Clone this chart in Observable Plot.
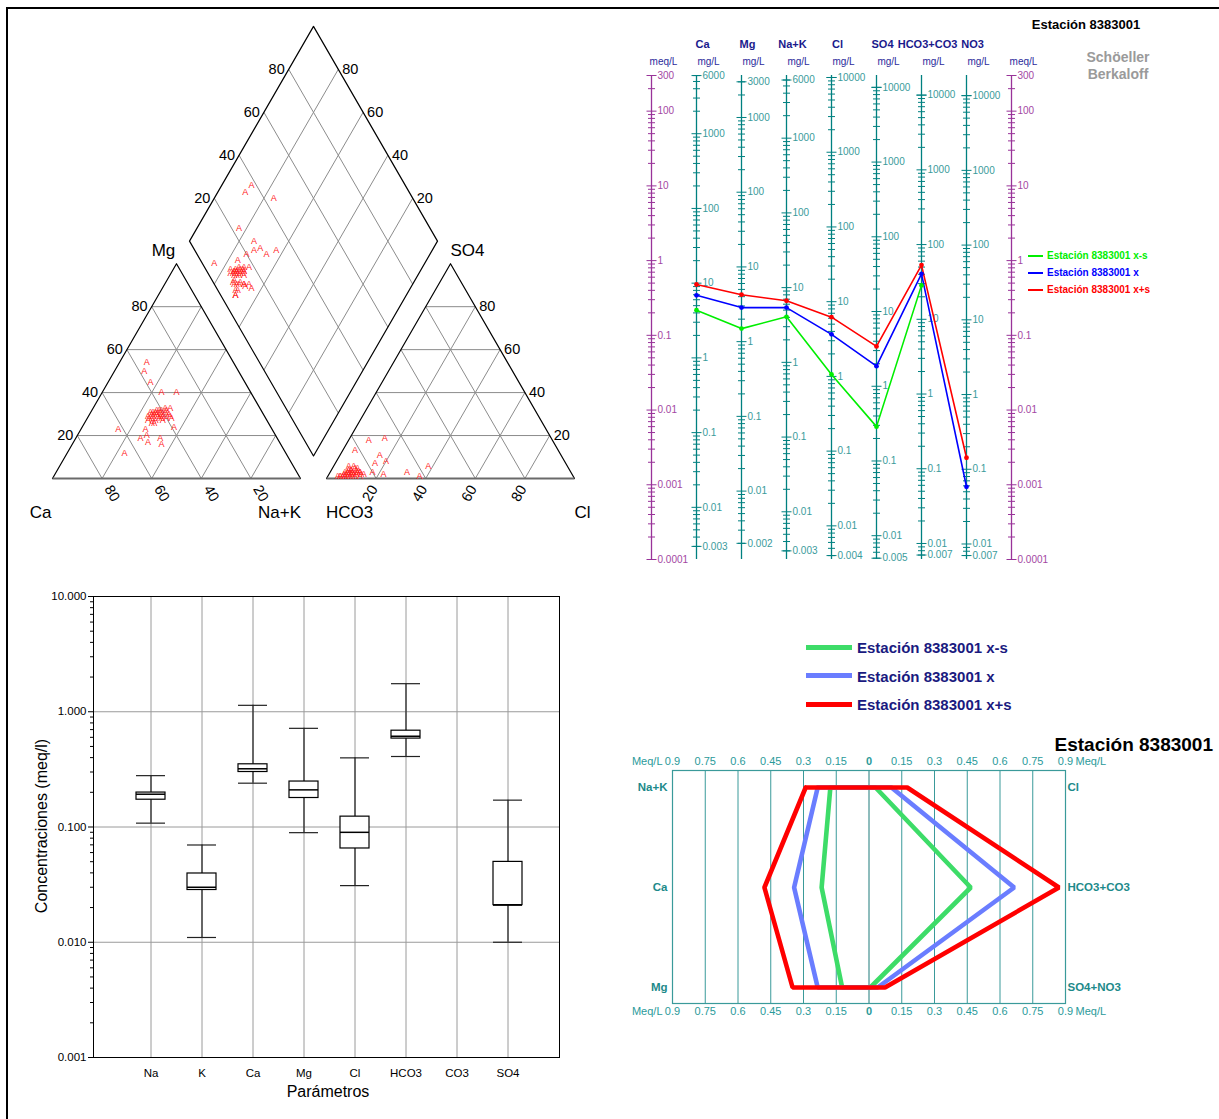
<!DOCTYPE html>
<html><head><meta charset="utf-8">
<script src="https://cdn.jsdelivr.net/npm/d3@7"></script>
<script src="https://cdn.jsdelivr.net/npm/@observablehq/plot@0.6"></script>
<style>
body{margin:0;background:#fff;}
#page{position:relative;width:1219px;height:1119px;overflow:hidden;background:#fff;font-family:'Liberation Sans',Arial,Helvetica,sans-serif;}
.lbl{position:absolute;white-space:nowrap;line-height:1;}
</style></head><body><div id="page"></div>
<script>
// ================= DATA =================
// Piper samples (percent of meq): cations Mg, Na+K (Ca = rest); anions SO4, Cl (HCO3 = rest)
const mgPct  = [54,50,45,40,40,28,24,23,23,20,19,19,17,16,12, 30,32,29,31,28,33,27,30,29,31,32,28,30,26,29,31,27,30,33,28,29,32,30,27,31,29,28,30,32,26,31,29,30,28,27];
const nakPct = [11,12,17,24,30,34,37,15,26,28,26,34,30,36,23, 27,28,26,30,25,29,27,31,28,24,26,29,32,27,30,25,28,26,31,30,24,27,29,31,28,33,26,25,30,28,26,29,27,32,25];
const so4Pct = [3,1,7,6,11,8,19,1,18,2,3,4,13,3,2, 2,1,3,1,4,2,5,1,3,2,1,6,2,3,1,4,2,3,1,2,5,1,3,2,4,1,2,3,1,2,6,1,2,3,4];
const clPct  = [31,37,16,38,16,20,14,4,8,22,17,10,5,11,8, 9,7,11,6,8,13,9,5,12,7,9,8,10,6,13,7,11,9,5,8,10,7,12,6,8,11,9,7,10,14,6,8,11,9,7];
const piperTicks = [20,40,60,80];

// Schoeller-Berkaloff
const sbIons = ["Ca","Mg","Na+K","Cl","SO4","HCO3+CO3","NO3"];
const sbEqWeight = [20.04,12.15,22.99,35.45,48.03,61.02,62.0];
const sbMgTop = [6000,3000,6000,10000,10000,10000,10000];
const sbMgBottom = [0.003,0.002,0.003,0.004,0.005,0.007,0.007];
const meqRange = [0.0001,300];
const meqLabels = [300,100,10,1,0.1,0.01,0.001,0.0001];
const seriesNames = ["Estación 8383001 x-s","Estación 8383001 x","Estación 8383001 x+s"];
// meq/L per ion, order of sbIons
const meqXmS = [0.217,0.123,0.177,0.030,0.006,0.466,null];
const meqX   = [0.343,0.235,0.235,0.103,0.0386,0.665,0.00094];
const meqXpS = [0.479,0.350,0.290,0.175,0.071,0.870,0.0023];

// Box plot (meq/l)
const boxCats = ["Na","K","Ca","Mg","Cl","HCO3","CO3","SO4"];
const boxMin = [0.108,0.011,0.24,0.0893,0.031,0.409,null,0.010];
const boxQ1  = [0.1725,0.0284,0.30,0.1785,0.0651,0.585,null,0.021];
const boxMed = [0.1925,0.030,0.32,0.21,0.0899,0.613,null,0.021];
const boxQ3  = [0.199,0.0395,0.35,0.248,0.123,0.685,null,0.0498];
const boxMax = [0.279,0.0698,1.137,0.718,0.398,1.752,null,0.171];
const boxDecades = [0.001,0.01,0.1,1,10];

// Stiff
const stiffCations = ["Na+K","Ca","Mg"];
const stiffAnions = ["Cl","HCO3+CO3","SO4+NO3"];
const stiffTicks = [-0.9,-0.75,-0.6,-0.45,-0.3,-0.15,0,0.15,0.3,0.45,0.6,0.75,0.9];

// ================= HELPERS =================
const FONT = "'Liberation Sans', Arial, Helvetica, sans-serif";
const page = document.getElementById("page");
function addSvg(svg, left, top){
  svg.style.position="absolute"; svg.style.left=left+"px"; svg.style.top=top+"px";
  svg.style.overflow="visible"; svg.style.maxWidth="none"; page.appendChild(svg);
}
function label(text, x, y, style, anchor){
  const d=document.createElement("div"); d.className="lbl"; d.textContent=text;
  Object.assign(d.style, style||{});
  d.style.left=x+"px"; d.style.top=y+"px";
  const tx = anchor==="start"?"0":anchor==="end"?"-100%":"-50%";
  d.style.transform=`translate(${tx},-50%)`+(style&&style.rot?` rotate(${style.rot})`:"");
  page.appendChild(d); return d;
}
function hline(x,y,w,h,color){
  const d=document.createElement("div");
  Object.assign(d.style,{position:"absolute",left:x+"px",top:y+"px",width:w+"px",height:h+"px",background:color});
  page.appendChild(d);
}
// page frame
hline(6,7,1213,2,"#000");
hline(6,7,2,1112,"#000");

// ================= PIPER =================
const S3 = Math.sqrt(3)/2, GAP = 0.105, K = 248;
const catXY = (nak, mg) => [(nak + mg/2)/100, mg*S3/100];
const anXY = (so4, cl) => [1 + GAP + (cl + so4/2)/100, so4*S3/100];
const B0 = [1 + GAP/2, GAP*S3];
const diaXY = (a, c) => [B0[0] + (c - a)/2, B0[1] + S3*(a + c)];
const seg = (p,q) => ({x1:p[0],y1:p[1],x2:q[0],y2:q[1]});

const samples = mgPct.map((mg,i)=>({mg, nak:nakPct[i], so4:so4Pct[i], cl:clPct[i]}));
const catPts = samples.map(s=>{const p=catXY(s.nak,s.mg); return {x:p[0],y:p[1]};});
const anPts = samples.map(s=>{const p=anXY(s.so4,s.cl); return {x:p[0],y:p[1]};});
const diaPts = samples.map(s=>{const p=diaXY((100-s.nak)/100,(s.so4+s.cl)/100); return {x:p[0],y:p[1]};});

const grid = [];
for (const v of piperTicks){
  grid.push(seg(catXY(0,v), catXY(100-v,v)));
  grid.push(seg(catXY(v,0), catXY(v,100-v)));
  grid.push(seg(catXY(100-v,0), catXY(0,100-v)));
  grid.push(seg(anXY(v,0), anXY(v,100-v)));
  grid.push(seg(anXY(0,v), anXY(100-v,v)));
  grid.push(seg(anXY(0,100-v), anXY(100-v,0)));
  grid.push(seg(diaXY(v/100,0), diaXY(v/100,1)));
  grid.push(seg(diaXY(0,v/100), diaXY(1,v/100)));
}
const outline = [];
[[catXY(0,0),catXY(100,0),catXY(0,100),catXY(0,0)],
 [anXY(0,0),anXY(0,100),anXY(100,0),anXY(0,0)],
 [diaXY(0,0),diaXY(1,0),diaXY(1,1),diaXY(0,1),diaXY(0,0)]].forEach((poly,k)=>poly.forEach(p=>outline.push({x:p[0],y:p[1],k})));
const bases = [seg(catXY(0,0),catXY(100,0)), seg(anXY(0,0),anXY(0,100))];

const lab = (arr, f) => arr.map(v=>{const p=f(v); return {x:p[0],y:p[1],t:String(v)};});
const tk = {fontSize:14.5, fill:"#000"};
const piper = Plot.plot({
  width:615, height:540, margin:0,
  x:{type:"linear", domain:[0,2+GAP], range:[52,574], axis:null},
  y:{type:"linear", domain:[0,478/K], range:[478,0], axis:null},
  style:{fontFamily:FONT, background:"transparent"},
  marks:[
    Plot.link(grid,{x1:"x1",y1:"y1",x2:"x2",y2:"y2",stroke:"#8c8c8c",strokeWidth:1}),
    Plot.line(outline,{x:"x",y:"y",z:"k",stroke:"#000",strokeWidth:1.2}),
    Plot.link(bases,{x1:"x1",y1:"y1",x2:"x2",y2:"y2",stroke:"#6a6a6a",strokeWidth:2.2}),
    Plot.text(lab(piperTicks, v=>catXY(0,v)),{x:"x",y:"y",text:"t",textAnchor:"end",dx:-4,...tk}),
    Plot.text(lab([80,60,40,20], v=>catXY(100-v,0)),{x:"x",y:"y",text:"t",rotate:60,dx:10,dy:15,...tk}),
    Plot.text(lab(piperTicks, v=>anXY(v,100-v)),{x:"x",y:"y",text:"t",textAnchor:"start",dx:4,...tk}),
    Plot.text(lab(piperTicks, v=>anXY(0,v)),{x:"x",y:"y",text:"t",rotate:-60,dx:-6,dy:15,...tk}),
    Plot.text(lab(piperTicks, v=>diaXY(1,v/100)),{x:"x",y:"y",text:"t",textAnchor:"end",dx:-4,...tk}),
    Plot.text(lab(piperTicks, v=>diaXY(v/100,1)),{x:"x",y:"y",text:"t",textAnchor:"start",dx:4,...tk}),
    Plot.text([{p:catXY(0,0),t:"Ca",dx:-12,dy:34},{p:catXY(100,0),t:"Na+K",dx:-21,dy:34},{p:catXY(0,100),t:"Mg",dx:-13,dy:-13},
               {p:anXY(0,0),t:"HCO3",dx:23,dy:34},{p:anXY(0,100),t:"Cl",dx:8,dy:34},{p:anXY(100,0),t:"SO4",dx:17,dy:-13}].map(d=>({x:d.p[0]+d.dx/K,y:d.p[1]-d.dy/K,t:d.t})),
      {x:"x",y:"y",text:"t",fontSize:17,fill:"#000"}),
    Plot.text(catPts,{x:"x",y:"y",text:()=>"A",fill:"#ff2020",fontSize:9}),
    Plot.text(anPts,{x:"x",y:"y",text:()=>"A",fill:"#ff2020",fontSize:9}),
    Plot.text(diaPts,{x:"x",y:"y",text:()=>"A",fill:"#ff2020",fontSize:9})
  ]
});
addSvg(piper,0,0);

// ================= SCHOELLER =================
function logTicks(lo, hi){
  const out=[];
  for(let e=-5;e<=5;e++){const p=+("1e"+e); for(let k=1;k<10;k++){const v=k*p; if(v>=lo*0.999&&v<=hi*1.001) out.push({v,major:k===1});}}
  return out;
}
const fmt = d3.format("~g");
const teal="#008080", tealLbl="#3a9b9b", purple="#993399", purpleLbl="#a347a3";
const ionTicks=[], ionLabels=[], meqTicks=[], meqLbl=[];
sbIons.forEach((ion,i)=>{
  const w=sbEqWeight[i], lo=sbMgBottom[i], hi=sbMgTop[i];
  const t=logTicks(lo,hi); t.push({v:lo,major:true},{v:hi,major:true});
  t.forEach(d=>ionTicks.push({pos:i+1, meq:d.v/w, h:d.major?5:3.5}));
  const labs=[...new Set(t.filter(d=>d.major).map(d=>d.v))];
  labs.forEach(v=>ionLabels.push({pos:i+1, meq:v/w, t:fmt(v)}));
});
[0,8].forEach(pos=>{
  logTicks(meqRange[0],meqRange[1]).concat([{v:300,major:true}]).forEach(d=>meqTicks.push({pos, meq:d.v, h:d.major?5:3.5}));
  meqLabels.forEach(v=>meqLbl.push({pos, meq:v, t:fmt(v)}));
});
const sbColors=["#00ee00","#0000ff","#ff0000"];
const sbRows=[meqXmS,meqX,meqXpS].flatMap((vals,s)=>vals.map((v,i)=>({s:seriesNames[s], color:sbColors[s], pos:i+1, meq:v})));
const PX=45;
const sb = Plot.plot({
  width:599, height:575, margin:0,
  x:{type:"linear", domain:[0,8], range:[31,391], axis:null},
  y:{type:"log", domain:meqRange, range:[559,75], axis:null},
  style:{fontFamily:FONT, background:"transparent"},
  marks:[
    Plot.ruleX(sbIons,{x:(d,i)=>i+1, y1:meqRange[0], y2:meqRange[1], stroke:teal, strokeWidth:1.3}),
    Plot.ruleX([0,8],{x:d=>d, y1:meqRange[0], y2:meqRange[1], stroke:purple, strokeWidth:1.3}),
    Plot.link(ionTicks,{x1:d=>d.pos-d.h/PX, x2:d=>d.pos+d.h/PX, y1:"meq", y2:"meq", stroke:teal, strokeWidth:1}),
    Plot.link(meqTicks,{x1:d=>d.pos-d.h/PX, x2:d=>d.pos+d.h/PX, y1:"meq", y2:"meq", stroke:purple, strokeWidth:1}),
    Plot.text(ionLabels,{x:"pos", y:"meq", text:"t", dx:6, textAnchor:"start", fill:tealLbl, fontSize:10}),
    Plot.text(meqLbl,{x:"pos", y:"meq", text:"t", dx:6, textAnchor:"start", fill:purpleLbl, fontSize:10}),
    Plot.text(sbIons,{x:(d,i)=>i+1, frameAnchor:"top", lineAnchor:"middle", dy:44, dx:6, text:d=>d, fill:"#1a1a8c", fontWeight:"bold", fontSize:11}),
    Plot.text(["meq/L"].concat(sbIons.map(()=>"mg/L"),["meq/L"]),{x:(d,i)=>i, frameAnchor:"top", lineAnchor:"middle", dy:61, dx:12, text:d=>d, fill:"#2b2b9b", fontSize:10}),
    Plot.line(sbRows,{x:"pos", y:"meq", z:"s", stroke:"color", strokeWidth:1.6}),
    Plot.dot(sbRows.filter(d=>d.meq!=null),{x:"pos", y:"meq", fill:"color", r:2.4})
  ]
});
addSvg(sb,620,0);
label("Estación 8383001",1086,24,{fontSize:"13px",fontWeight:"bold",color:"#000"});
label("Schöeller",1118,57,{fontSize:"14px",fontWeight:"bold",color:"#9a9a9a"});
label("Berkaloff",1118,74,{fontSize:"14px",fontWeight:"bold",color:"#9a9a9a"});
seriesNames.forEach((n,i)=>{
  const y=256+17*i;
  hline(1028,y-1,15,2,sbColors[i]);
  label(n,1047,y,{fontSize:"10px",fontWeight:"bold",color:sbColors[i]},"start");
});

// ================= BOX PLOT =================
const boxRows = boxCats.map((c,i)=>({cat:c, lo:boxMin[i], q1:boxQ1[i], med:boxMed[i], q3:boxQ3[i], hi:boxMax[i]})).filter(d=>d.lo!=null);
const minors=[]; for(const d of boxDecades.slice(0,-1)) for(let k=2;k<10;k++) minors.push(k*d);
const box = Plot.plot({
  width:600, height:549, marginLeft:93, marginRight:41, marginTop:26, marginBottom:62,
  x:{type:"band", domain:boxCats, range:[123.3,534.7], paddingInner:0.44, paddingOuter:0.22},
  y:{type:"log", domain:[0.001,10]},
  style:{fontFamily:FONT, background:"transparent", color:"#000"},
  marks:[
    Plot.gridY(boxDecades,{stroke:"#9a9a9a", strokeOpacity:1, strokeWidth:1}),
    Plot.gridX({stroke:"#9a9a9a", strokeOpacity:1, strokeWidth:1}),
    Plot.axisY(boxDecades,{tickFormat:d3.format(".3f"), tickSize:5, tickPadding:2, fontSize:11.5, label:null}),
    Plot.axisY(minors,{tickFormat:()=>"", tickSize:3, label:null}),
    Plot.axisX({tickSize:0, tickPadding:11, fontSize:11.5, label:null}),
    Plot.ruleX(boxRows,{x:"cat", y1:"lo", y2:"q1", stroke:"#222", strokeWidth:1.2}),
    Plot.ruleX(boxRows,{x:"cat", y1:"q3", y2:"hi", stroke:"#222", strokeWidth:1.2}),
    Plot.barY(boxRows,{x:"cat", y1:"q1", y2:"q3", fill:"white", stroke:"#000", strokeWidth:1.2}),
    Plot.tickY(boxRows,{x:"cat", y:"med", stroke:"#000", strokeWidth:1.5}),
    Plot.tickY(boxRows,{x:"cat", y:"lo", stroke:"#222", strokeWidth:1.2}),
    Plot.tickY(boxRows,{x:"cat", y:"hi", stroke:"#222", strokeWidth:1.2}),
    Plot.frame({stroke:"#000", strokeWidth:1})
  ]
});
addSvg(box,0,570);
label("Parámetros",328,1092,{fontSize:"16px",color:"#000"});
label("Concentraciones (meq/l)",42,826,{fontSize:"16px",color:"#000",rot:"-90deg"});

// ================= STIFF =================
const stiffColors=["#3ddc68","#6a7dff","#ff0000"];
const stiffRows=[meqXmS,meqX,meqXpS].flatMap((v,s)=>{
  const pts=[[-v[2],"Na+K"],[-v[0],"Ca"],[-v[1],"Mg"],[v[4]+(v[6]||0),"Mg"],[v[5],"Ca"],[v[3],"Na+K"],[-v[2],"Na+K"]];
  return pts.map(p=>({s:seriesNames[s], color:stiffColors[s], v:p[0], row:p[1]}));
});
const stiffLblColor="#2a9a9a", stiffRowColor="#1d8a8a";
const absFmt = d=>d3.format("~g")(Math.abs(d));
const sTop = {frameAnchor:"top", lineAnchor:"middle", dy:-9, fill:stiffLblColor, fontSize:11};
const sBot = {frameAnchor:"bottom", lineAnchor:"middle", dy:8, fill:stiffLblColor, fontSize:11};
const stiff = Plot.plot({
  width:599, height:330, marginLeft:52, marginRight:154, marginTop:50, marginBottom:47,
  x:{type:"linear", domain:[-0.9,0.9], axis:null},
  y:{type:"point", domain:stiffCations, range:[66,267], padding:0, axis:null},
  style:{fontFamily:FONT, background:"transparent"},
  marks:[
    Plot.ruleX(stiffTicks,{x:d=>d, stroke:d=>d===0?"#1f7a7a":"#3a9a9a", strokeWidth:1}),
    Plot.frame({stroke:"#3a9a9a", strokeWidth:1.2}),
    Plot.text(stiffTicks.filter(d=>d!==0),{x:d=>d, text:absFmt, ...sTop}),
    Plot.text(stiffTicks.filter(d=>d!==0),{x:d=>d, text:absFmt, ...sBot}),
    Plot.text([0],{x:d=>d, text:absFmt, fontWeight:"bold", ...sTop}),
    Plot.text([0],{x:d=>d, text:absFmt, fontWeight:"bold", ...sBot}),
    Plot.text(["Meq/L"],{x:()=>-0.9, dx:-10, textAnchor:"end", text:d=>d, ...sTop}),
    Plot.text(["Meq/L"],{x:()=>0.9, dx:10, textAnchor:"start", text:d=>d, ...sTop}),
    Plot.text(["Meq/L"],{x:()=>-0.9, dx:-10, textAnchor:"end", text:d=>d, ...sBot}),
    Plot.text(["Meq/L"],{x:()=>0.9, dx:10, textAnchor:"start", text:d=>d, ...sBot}),
    Plot.text(stiffCations,{x:()=>-0.9, y:d=>d, text:d=>d, dx:-5, textAnchor:"end", fill:stiffRowColor, fontWeight:"bold", fontSize:11.5}),
    Plot.text(stiffAnions,{x:()=>0.9, y:(d,i)=>stiffCations[i], text:d=>d, dx:2, textAnchor:"start", fill:stiffRowColor, fontWeight:"bold", fontSize:11.5}),
    Plot.line(stiffRows,{x:"v", y:"row", z:"s", stroke:"color", strokeWidth:4.6, strokeLinejoin:"miter"})
  ]
});
addSvg(stiff,620,720);
label("Estación 8383001",1213,744,{fontSize:"19px",fontWeight:"bold",color:"#000"},"end");
seriesNames.forEach((n,i)=>{
  const y=647+28.5*i;
  hline(806,y-2.5,46,5,stiffColors[i]);
  label(n,857,y,{fontSize:"15px",fontWeight:"bold",color:"#1a1a80"},"start");
});
</script></body></html>
